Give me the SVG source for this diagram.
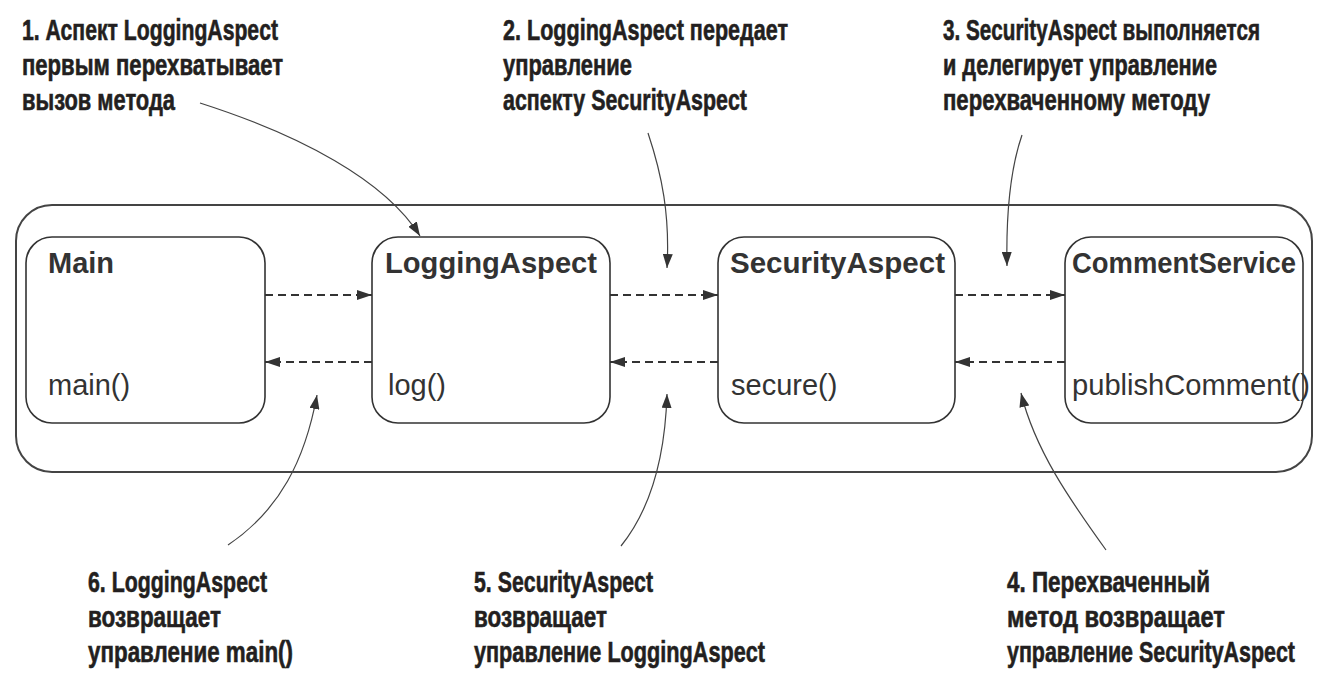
<svg xmlns="http://www.w3.org/2000/svg" width="1325" height="688" viewBox="0 0 1325 688">
<style>
.bg{fill:#ffffff}
.outer{fill:none;stroke:#444;stroke-width:2}
.box{fill:#ffffff;stroke:#333;stroke-width:1.6}
.title{font-family:"Liberation Sans",Arial,sans-serif;font-weight:bold;font-size:29px;fill:#333}
.method{font-family:"Liberation Sans",Arial,sans-serif;font-size:29px;fill:#333}
.note{font-family:"Liberation Sans Narrow","Liberation Sans",Arial,sans-serif;font-weight:bold;font-size:29px;fill:#231f20;stroke:#231f20;stroke-width:0.6}
.dash{fill:none;stroke:#333;stroke-width:2;stroke-dasharray:8 5}
.call{fill:none;stroke:#444;stroke-width:1.2}
</style>
<defs>
<marker id="ah" viewBox="0 0 15 10" refX="15" refY="5" markerWidth="15" markerHeight="10" markerUnits="userSpaceOnUse" orient="auto">
<path d="M0,0 L15,5 L0,10 z" fill="#333"/>
</marker>
<marker id="ahc" viewBox="0 0 14 10" refX="14" refY="5" markerWidth="14" markerHeight="10" markerUnits="userSpaceOnUse" orient="auto">
<path d="M0,0 L14,5 L0,10 z" fill="#333"/>
</marker>
</defs>
<rect class="bg" x="0" y="0" width="1325" height="688"/>
<g id="container">
<rect class="outer" x="16" y="205" width="1296" height="267" rx="36" ry="36"/>
</g>
<g id="main">
<rect class="box" x="26" y="237" width="239" height="186" rx="26" ry="26"/>
<text class="title" x="48" y="273">Main</text>
<text class="method" x="48" y="395">main()</text>
</g>
<g id="loggingAspect">
<rect class="box" x="372" y="237" width="238" height="186" rx="26" ry="26"/>
<text class="title" x="385" y="273" textLength="212" lengthAdjust="spacingAndGlyphs">LoggingAspect</text>
<text class="method" x="388" y="395">log()</text>
</g>
<g id="securityAspect">
<rect class="box" x="718" y="237" width="237" height="186" rx="26" ry="26"/>
<text class="title" x="730" y="273" textLength="215" lengthAdjust="spacingAndGlyphs">SecurityAspect</text>
<text class="method" x="731" y="395">secure()</text>
</g>
<g id="commentService">
<rect class="box" x="1065" y="237" width="238" height="186" rx="26" ry="26"/>
<text class="title" x="1072" y="273" textLength="224" lengthAdjust="spacingAndGlyphs">CommentService</text>
<text class="method" x="1072" y="395" textLength="238" lengthAdjust="spacingAndGlyphs">publishComment()</text>
</g>
<g id="connectors">
<line class="dash" x1="265" y1="295" x2="372" y2="295" marker-end="url(#ah)"/>
<line class="dash" x1="372" y1="362" x2="265" y2="362" marker-end="url(#ah)"/>
<line class="dash" x1="610" y1="295" x2="718" y2="295" marker-end="url(#ah)"/>
<line class="dash" x1="718" y1="362" x2="610" y2="362" marker-end="url(#ah)"/>
<line class="dash" x1="955" y1="295" x2="1065" y2="295" marker-end="url(#ah)"/>
<line class="dash" x1="1065" y1="362" x2="955" y2="362" marker-end="url(#ah)"/>
<path class="call" d="M200,103 C300,135 385,180 420,236" marker-end="url(#ahc)"/>
<path class="call" d="M648,133 C662,175 670,215 667,268" marker-end="url(#ahc)"/>
<path class="call" d="M1022,135 C1010,170 1006,215 1007,266" marker-end="url(#ahc)"/>
<path class="call" d="M1106,550 C1070,500 1035,450 1021,393" marker-end="url(#ahc)"/>
<path class="call" d="M621,546 C650,510 665,460 667,394" marker-end="url(#ahc)"/>
<path class="call" d="M228,545 C280,510 305,460 317,395" marker-end="url(#ahc)"/>
</g>
<g id="note1">
<text class="note" x="22" y="40" textLength="256" lengthAdjust="spacingAndGlyphs">1. Аспект LoggingAspect</text>
<text class="note" x="22" y="75" textLength="261" lengthAdjust="spacingAndGlyphs">первым перехватывает</text>
<text class="note" x="22" y="110" textLength="153" lengthAdjust="spacingAndGlyphs">вызов метода</text>
</g>
<g id="note2">
<text class="note" x="503" y="40" textLength="285" lengthAdjust="spacingAndGlyphs">2. LoggingAspect передает</text>
<text class="note" x="503" y="75" textLength="129" lengthAdjust="spacingAndGlyphs">управление</text>
<text class="note" x="503" y="110" textLength="244" lengthAdjust="spacingAndGlyphs">аспекту SecurityAspect</text>
</g>
<g id="note3">
<text class="note" x="943" y="40" textLength="317" lengthAdjust="spacingAndGlyphs">3. SecurityAspect выполняется</text>
<text class="note" x="943" y="75" textLength="274" lengthAdjust="spacingAndGlyphs">и делегирует управление</text>
<text class="note" x="943" y="110" textLength="267" lengthAdjust="spacingAndGlyphs">перехваченному методу</text>
</g>
<g id="note4">
<text class="note" x="1007" y="592" textLength="203" lengthAdjust="spacingAndGlyphs">4. Перехваченный</text>
<text class="note" x="1007" y="627" textLength="218" lengthAdjust="spacingAndGlyphs">метод возвращает</text>
<text class="note" x="1007" y="662" textLength="288" lengthAdjust="spacingAndGlyphs">управление SecurityAspect</text>
</g>
<g id="note5">
<text class="note" x="474" y="592" textLength="179" lengthAdjust="spacingAndGlyphs">5. SecurityAspect</text>
<text class="note" x="474" y="627" textLength="133" lengthAdjust="spacingAndGlyphs">возвращает</text>
<text class="note" x="474" y="662" textLength="291" lengthAdjust="spacingAndGlyphs">управление LoggingAspect</text>
</g>
<g id="note6">
<text class="note" x="88" y="592" textLength="179" lengthAdjust="spacingAndGlyphs">6. LoggingAspect</text>
<text class="note" x="88" y="627" textLength="133" lengthAdjust="spacingAndGlyphs">возвращает</text>
<text class="note" x="88" y="662" textLength="205" lengthAdjust="spacingAndGlyphs">управление main()</text>
</g>
</svg>
